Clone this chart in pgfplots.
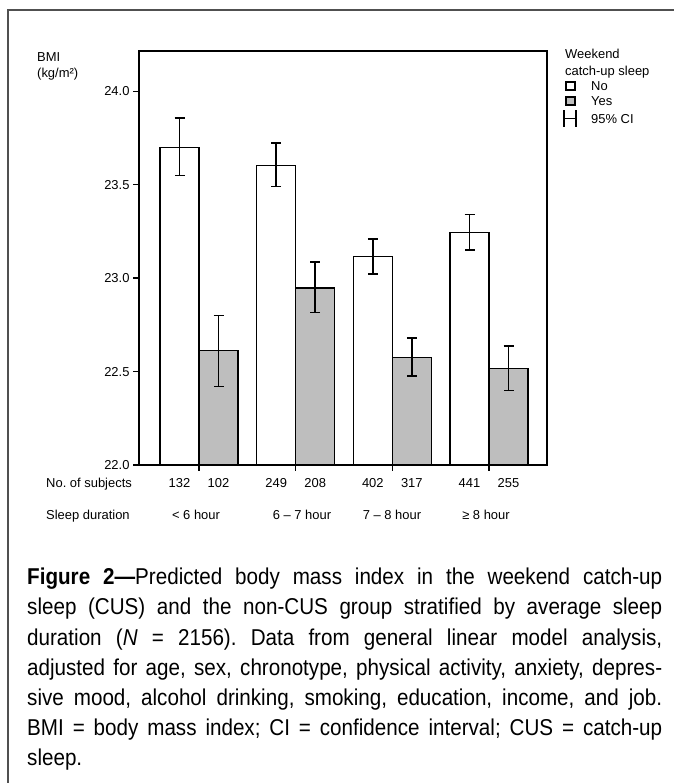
\documentclass[border=0pt]{standalone}
\usepackage{pgfplots}
\pgfplotsset{compat=1.18}
\usepackage{fontspec}
\setmainfont{Liberation Sans}
\newfontfamily\capfont[FakeStretch=0.9]{Liberation Sans}
\frenchspacing
\definecolor{bargray}{RGB}{190,190,190}
\definecolor{framegray}{RGB}{80,80,80}
\newcommand{\lf}{\fontsize{13}{15}\selectfont}
\newcommand{\capline}[1]{\makebox[635bp][s]{#1}}
\begin{document}
\begin{tikzpicture}[x=1bp,y=1bp]
\useasboundingbox (0,0) rectangle (674,783);
\draw[line width=1.4bp, framegray] (8,0) -- (8,773) -- (674,773);

\begin{axis}[
  at={(139bp,318bp)}, anchor=south west,
  width=408bp, height=414bp, scale only axis,
  xmin=0, xmax=408, ymin=22, ymax=24.2155,
  axis line style={line width=1.3bp},
  ytick={22,22.5,23,23.5,24},
  /pgf/number format/assume math mode=true,
  yticklabel style={/pgf/number format/.cd, fixed, fixed zerofill, precision=1},
  ticklabel style={font=\lf},
  xtick={60,156.67,253.33,350}, xticklabels={},
  tick align=outside, xtick pos=bottom, ytick pos=left,
  major tick length=6bp,
  tick style={line width=1.3bp, black},
  bar width=39,
]
\addplot[ybar, bar shift=0pt, fill=white, draw=black, line width=1.3bp,
  error bars/.cd, y dir=both, y explicit,
  error bar style={line width=1.6bp, black},
  error mark options={rotate=90, mark size=5bp, line width=1.6bp, black}]
coordinates {
  (40.5,23.700)  += (0,0.157) -= (0,0.150)
  (137.2,23.604) += (0,0.120) -= (0,0.114)
  (233.8,23.117) += (0,0.093) -= (0,0.095)
  (330.5,23.246) += (0,0.094) -= (0,0.095)
};
\addplot[ybar, bar shift=0pt, fill=bargray, draw=black, line width=1.3bp,
  error bars/.cd, y dir=both, y explicit,
  error bar style={line width=1.6bp, black},
  error mark options={rotate=90, mark size=5bp, line width=1.6bp, black}]
coordinates {
  (79.5,22.611)  += (0,0.189) -= (0,0.191)
  (176.2,22.947) += (0,0.140) -= (0,0.132)
  (272.8,22.577) += (0,0.103) -= (0,0.100)
  (369.5,22.518) += (0,0.120) -= (0,0.120)
};
\end{axis}

% y-axis title
\node[anchor=base west, inner sep=0, font=\lf] at (37,721.7) {BMI};
\node[anchor=base west, inner sep=0, font=\lf] at (37,705.5) {(kg/m²)};

% legend
\node[anchor=base west, inner sep=0, font=\lf] at (565,724.4) {Weekend};
\node[anchor=base west, inner sep=0, font=\lf] at (565,707.4) {catch-up sleep};
\draw[line width=1.1bp, black, fill=white] (566,693) rectangle (575,701);
\node[anchor=base west, inner sep=0, font=\lf] at (591,692.4) {No};
\draw[line width=1.1bp, black, fill=bargray] (566,678) rectangle (575,686);
\node[anchor=base west, inner sep=0, font=\lf] at (591,677.4) {Yes};
\draw[line width=1.2bp, black] (564,656) -- (564,673) (576,656) -- (576,673) (564,664.5) -- (576,664.5);
\node[anchor=base west, inner sep=0, font=\lf] at (591,659.4) {95\% CI};

% row labels
\node[anchor=base west, inner sep=0, font=\lf] at (46,295.4) {No. of subjects};
\foreach \x/\t in {179.5/132, 218.5/102, 276.2/249, 315.2/208, 372.8/402, 411.8/317, 469.5/441, 508.5/255}
  \node[anchor=base, inner sep=0, font=\lf] at (\x,295.4) {\t};
\node[anchor=base west, inner sep=0, font=\lf] at (46,263.4) {Sleep duration};
\node[anchor=base, inner sep=0, font=\lf] at (196,263.4) {< 6 hour};
\node[anchor=base, inner sep=0, font=\lf] at (302,263.4) {6 – 7 hour};
\node[anchor=base, inner sep=0, font=\lf] at (392,263.4) {7 – 8 hour};
\node[anchor=base, inner sep=0, font=\lf] at (486,263.4) {≥ 8 hour};

% caption
\node[anchor=north west, inner sep=0, align=left, font=\capfont\fontsize{23}{30.3}\selectfont] at (27,215) {%
\capline{\textbf{Figure 2—}Predicted body mass index in the weekend catch-up}\\
\capline{sleep (CUS) and the non-CUS group stratified by average sleep}\\
\capline{duration (\textit{N} = 2156). Data from general linear model analysis,}\\
\capline{adjusted for age, sex, chronotype, physical activity, anxiety, depres-}\\
\capline{sive mood, alcohol drinking, smoking, education, income, and job.}\\
\capline{BMI = body mass index; CI = confidence interval; CUS = catch-up}\\
sleep.};
\end{tikzpicture}
\end{document}
